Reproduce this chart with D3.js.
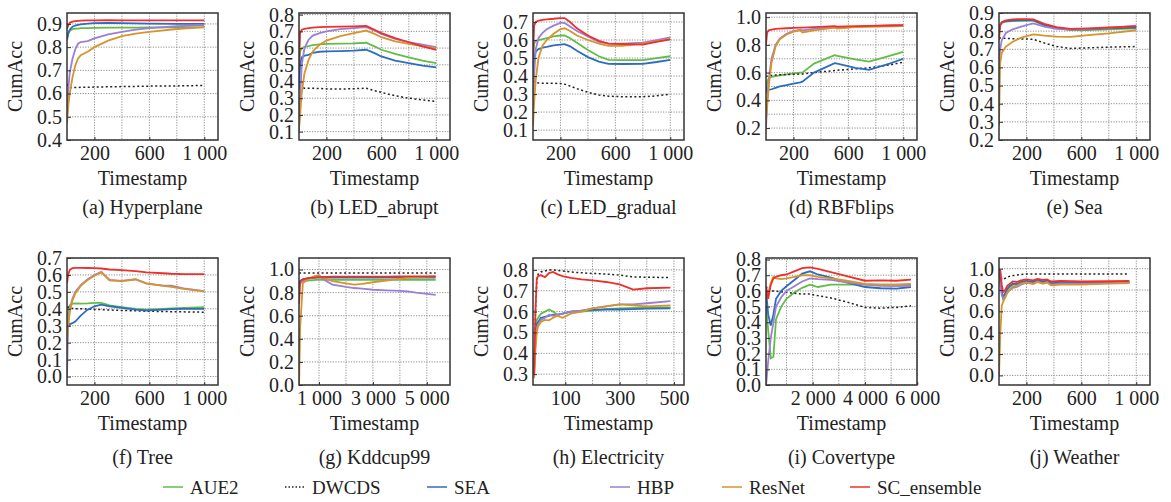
<!DOCTYPE html>
<meta charset="utf-8">
<style>
    body { margin: 0; background: #fff; }
    text { font-family: 'Liberation Serif', 'Times New Roman', serif; fill: #222; }
    .grid line { stroke: #8f8f8f; stroke-width: 1; stroke-dasharray: 1.2, 1.4; }
    .axis text { font-size: 20px; }
    .axis line { stroke: #333; }
    .frame { fill: none; stroke: #333; stroke-width: 1.5; }
    .label { font-size: 20px; }
    .legend text { font-size: 19px; }
</style>
<body>
<script src="https://cdn.jsdelivr.net/npm/d3@7/dist/d3.min.js"></script>
<script>

// series order in every panel
var methods = ["AUE2", "DWCDS", "SEA", "HBP", "ResNet", "SC_ensemble"];
var colors = ["#62bd46", "#222222", "#2d6cc0", "#9a7fd6", "#d6952c", "#ee2f2c"];

// (a) Hyperplane
var hyperplaneX = [0, 10, 20, 40, 60, 80, 100, 150, 200, 300, 400, 500, 600, 800, 1000];
var hyperplaneAcc = [
    [0.84, 0.86, 0.87, 0.878, 0.88, 0.88, 0.882, 0.882, 0.883, 0.884, 0.884, 0.884, 0.885, 0.885, 0.885],
    [0.64, 0.63, 0.625, 0.625, 0.626, 0.626, 0.627, 0.627, 0.628, 0.629, 0.63, 0.631, 0.632, 0.633, 0.635],
    [0.83, 0.86, 0.875, 0.888, 0.893, 0.896, 0.898, 0.901, 0.903, 0.904, 0.903, 0.902, 0.901, 0.9, 0.9],
    [0.5, 0.62, 0.69, 0.75, 0.79, 0.815, 0.822, 0.826, 0.838, 0.855, 0.866, 0.875, 0.882, 0.89, 0.895],
    [0.47, 0.55, 0.6, 0.67, 0.72, 0.75, 0.765, 0.78, 0.8, 0.828, 0.847, 0.858, 0.866, 0.878, 0.886],
    [0.88, 0.895, 0.905, 0.91, 0.912, 0.913, 0.914, 0.915, 0.915, 0.916, 0.915, 0.915, 0.915, 0.915, 0.915]
];

// (b) LED_abrupt
var abruptX = [0, 8, 20, 40, 70, 100, 150, 200, 300, 400, 490, 550, 600, 700, 800, 900, 1000];
var abruptAcc = [
    [0.45, 0.58, 0.6, 0.607, 0.612, 0.618, 0.622, 0.625, 0.627, 0.628, 0.632, 0.61, 0.59, 0.565, 0.545, 0.525, 0.51],
    [0.37, 0.37, 0.365, 0.36, 0.36, 0.36, 0.358, 0.356, 0.355, 0.357, 0.36, 0.345, 0.335, 0.315, 0.3, 0.29, 0.28],
    [0.35, 0.5, 0.545, 0.555, 0.56, 0.572, 0.578, 0.58, 0.582, 0.585, 0.59, 0.57, 0.55, 0.525, 0.51, 0.495, 0.485],
    [0.1, 0.3, 0.5, 0.6, 0.65, 0.675, 0.69, 0.7, 0.713, 0.72, 0.725, 0.705, 0.685, 0.655, 0.635, 0.62, 0.605],
    [0.12, 0.2, 0.33, 0.45, 0.53, 0.58, 0.62, 0.645, 0.672, 0.69, 0.705, 0.685, 0.665, 0.64, 0.625, 0.61, 0.6],
    [0.5, 0.69, 0.71, 0.715, 0.72, 0.722, 0.725, 0.727, 0.728, 0.73, 0.733, 0.71, 0.69, 0.66, 0.635, 0.61, 0.59]
];

// (c) LED_gradual
var gradualX = [0, 8, 20, 40, 70, 100, 150, 200, 230, 270, 320, 400, 480, 550, 650, 800, 900, 1000];
var gradualAcc = [
    [0.45, 0.58, 0.595, 0.6, 0.605, 0.61, 0.62, 0.625, 0.625, 0.61, 0.585, 0.545, 0.51, 0.49, 0.488, 0.488, 0.5, 0.51],
    [0.37, 0.37, 0.365, 0.362, 0.36, 0.36, 0.36, 0.358, 0.355, 0.345, 0.33, 0.31, 0.295, 0.288, 0.285, 0.285, 0.29, 0.3],
    [0.38, 0.5, 0.535, 0.55, 0.558, 0.562, 0.57, 0.575, 0.577, 0.565, 0.54, 0.505, 0.48, 0.468, 0.467, 0.468, 0.478, 0.49],
    [0.2, 0.4, 0.55, 0.61, 0.64, 0.66, 0.68, 0.695, 0.695, 0.675, 0.65, 0.62, 0.59, 0.58, 0.58, 0.585, 0.6, 0.615],
    [0.12, 0.25, 0.38, 0.5, 0.57, 0.6, 0.635, 0.66, 0.665, 0.65, 0.625, 0.6, 0.58, 0.567, 0.568, 0.58, 0.593, 0.605],
    [0.5, 0.68, 0.7, 0.708, 0.712, 0.715, 0.718, 0.722, 0.722, 0.7, 0.665, 0.625, 0.595, 0.58, 0.578, 0.575, 0.59, 0.603]
];

// (d) RBFblips
var rbfX = [0, 8, 20, 40, 70, 100, 150, 200, 250, 265, 350, 500, 520, 650, 750, 900, 1000];
var rbfAcc = [
    [0.45, 0.53, 0.56, 0.57, 0.575, 0.58, 0.588, 0.595, 0.6, 0.6, 0.665, 0.725, 0.72, 0.695, 0.68, 0.72, 0.75],
    [0.57, 0.575, 0.578, 0.58, 0.582, 0.584, 0.586, 0.588, 0.59, 0.59, 0.6, 0.615, 0.617, 0.627, 0.635, 0.655, 0.675],
    [0.5, 0.47, 0.475, 0.48, 0.49, 0.5, 0.51, 0.52, 0.53, 0.535, 0.6, 0.668, 0.665, 0.635, 0.62, 0.665, 0.7],
    [0.2, 0.38, 0.55, 0.7, 0.8, 0.845, 0.88, 0.9, 0.91, 0.905, 0.915, 0.928, 0.925, 0.93, 0.935, 0.94, 0.942],
    [0.25, 0.35, 0.5, 0.67, 0.79, 0.84, 0.875, 0.895, 0.905, 0.89, 0.905, 0.925, 0.918, 0.928, 0.93, 0.933, 0.935],
    [0.8, 0.89, 0.905, 0.91, 0.915, 0.918, 0.92, 0.922, 0.925, 0.925, 0.928, 0.935, 0.932, 0.935, 0.937, 0.94, 0.942]
];

// (e) Sea
var seaX = [0, 8, 20, 50, 100, 150, 200, 250, 330, 420, 520, 650, 800, 1000];
var seaAcc = [
    [0.8, 0.83, 0.845, 0.852, 0.855, 0.857, 0.858, 0.858, 0.832, 0.815, 0.806, 0.806, 0.81, 0.815],
    [0.76, 0.762, 0.762, 0.76, 0.758, 0.757, 0.757, 0.755, 0.735, 0.715, 0.705, 0.708, 0.712, 0.715],
    [0.8, 0.835, 0.848, 0.855, 0.858, 0.86, 0.861, 0.86, 0.835, 0.818, 0.81, 0.81, 0.815, 0.82],
    [0.6, 0.7, 0.75, 0.79, 0.81, 0.822, 0.833, 0.843, 0.825, 0.812, 0.808, 0.812, 0.818, 0.83],
    [0.28, 0.62, 0.68, 0.715, 0.742, 0.76, 0.772, 0.782, 0.775, 0.77, 0.768, 0.778, 0.788, 0.805],
    [0.75, 0.83, 0.85, 0.86, 0.865, 0.866, 0.866, 0.865, 0.84, 0.822, 0.812, 0.815, 0.82, 0.826]
];

// (f) Tree
var treeX = [0, 8, 20, 40, 60, 100, 150, 200, 250, 310, 400, 500, 580, 700, 760, 850, 1000];
var treeAcc = [
    [0.3, 0.38, 0.42, 0.43, 0.432, 0.43, 0.432, 0.435, 0.435, 0.42, 0.41, 0.4, 0.395, 0.4, 0.402, 0.405, 0.41],
    [0.41, 0.41, 0.405, 0.402, 0.4, 0.4, 0.398, 0.396, 0.395, 0.393, 0.39, 0.388, 0.386, 0.384, 0.383, 0.382, 0.38],
    [0.25, 0.29, 0.31, 0.315, 0.325, 0.36, 0.395, 0.415, 0.425, 0.415, 0.405, 0.395, 0.39, 0.395, 0.398, 0.4, 0.4],
    [0.0, 0.3, 0.4, 0.46, 0.5, 0.54, 0.575, 0.6, 0.618, 0.57, 0.565, 0.575, 0.55, 0.537, 0.537, 0.52, 0.505],
    [0.22, 0.3, 0.38, 0.45, 0.49, 0.535, 0.57, 0.595, 0.615, 0.568, 0.563, 0.573, 0.548, 0.535, 0.53, 0.518, 0.503],
    [0.55, 0.6, 0.63, 0.64, 0.642, 0.642, 0.641, 0.64, 0.638, 0.632, 0.628, 0.622, 0.615, 0.61, 0.607, 0.605, 0.605]
];

// (g) Kddcup99
var kddX = [260, 300, 400, 600, 800, 900, 1000, 1200, 1500, 2000, 2300, 2600, 3000, 3500, 4000, 4300, 4600, 5330];
var kddAcc = [
    [0.88, 0.89, 0.9, 0.905, 0.908, 0.91, 0.91, 0.91, 0.91, 0.91, 0.91, 0.91, 0.91, 0.91, 0.91, 0.91, 0.91, 0.91],
    [0.97, 0.97, 0.97, 0.97, 0.97, 0.97, 0.97, 0.97, 0.97, 0.97, 0.97, 0.97, 0.97, 0.97, 0.97, 0.97, 0.97, 0.97],
    [0.88, 0.9, 0.915, 0.925, 0.928, 0.93, 0.93, 0.93, 0.93, 0.93, 0.93, 0.93, 0.93, 0.93, 0.93, 0.93, 0.93, 0.93],
    [0.85, 0.88, 0.9, 0.92, 0.935, 0.945, 0.95, 0.91, 0.87, 0.85, 0.84, 0.835, 0.825, 0.82, 0.815, 0.81, 0.8, 0.78],
    [0.0, 0.5, 0.88, 0.92, 0.94, 0.948, 0.945, 0.925, 0.9, 0.88, 0.87, 0.875, 0.89, 0.905, 0.92, 0.93, 0.935, 0.94],
    [0.7, 0.9, 0.915, 0.925, 0.93, 0.933, 0.935, 0.937, 0.938, 0.938, 0.938, 0.939, 0.939, 0.939, 0.94, 0.94, 0.94, 0.94]
];

// (h) Electricity
var elecX = [-15, -10, -5, 0, 10, 25, 40, 55, 70, 90, 120, 160, 200, 250, 300, 350, 400, 487];
var elecAcc = [
    [0.33, 0.5, 0.56, 0.57, 0.59, 0.6, 0.61, 0.6, 0.585, 0.59, 0.6, 0.6, 0.605, 0.612, 0.615, 0.618, 0.62, 0.62],
    [0.3, 0.6, 0.75, 0.78, 0.79, 0.795, 0.8, 0.8, 0.798, 0.795, 0.79, 0.786, 0.783, 0.78, 0.775, 0.766, 0.765, 0.763],
    [0.35, 0.48, 0.54, 0.55, 0.57, 0.575, 0.58, 0.585, 0.583, 0.59, 0.6, 0.605, 0.608, 0.61, 0.61, 0.612, 0.614, 0.615],
    [0.3, 0.45, 0.52, 0.54, 0.56, 0.57, 0.585, 0.58, 0.585, 0.59, 0.6, 0.605, 0.615, 0.625, 0.635, 0.635, 0.64, 0.65],
    [0.28, 0.42, 0.5, 0.53, 0.55, 0.56, 0.558, 0.57, 0.58, 0.57, 0.59, 0.6, 0.615, 0.625, 0.635, 0.63, 0.625, 0.63],
    [0.3, 0.6, 0.76, 0.77, 0.775, 0.765, 0.785, 0.79, 0.78, 0.77, 0.762, 0.755, 0.75, 0.742, 0.73, 0.705, 0.712, 0.715]
];

// (i) Covertype
var coverX = [220, 300, 400, 500, 600, 800, 1000, 1300, 1600, 1900, 2200, 2700, 3300, 4000, 4600, 5200, 5760];
var coverAcc = [
    [0.5, 0.35, 0.17, 0.18, 0.42, 0.5, 0.55, 0.59, 0.62, 0.64, 0.625, 0.64, 0.64, 0.64, 0.64, 0.64, 0.64],
    [0.63, 0.6, 0.6, 0.6, 0.598, 0.595, 0.59, 0.585, 0.58, 0.58, 0.57, 0.555, 0.53, 0.495, 0.49, 0.495, 0.505],
    [0.6, 0.45, 0.38, 0.45, 0.55, 0.6, 0.63, 0.67, 0.71, 0.725, 0.705, 0.685, 0.655, 0.625, 0.617, 0.615, 0.625],
    [0.0, 0.15, 0.3, 0.4, 0.5, 0.56, 0.6, 0.63, 0.66, 0.68, 0.675, 0.67, 0.655, 0.64, 0.632, 0.63, 0.632],
    [0.6, 0.58, 0.65, 0.69, 0.68, 0.675, 0.68, 0.69, 0.7, 0.7, 0.69, 0.68, 0.665, 0.645, 0.64, 0.64, 0.645],
    [0.63, 0.55, 0.64, 0.68, 0.69, 0.7, 0.705, 0.725, 0.745, 0.75, 0.74, 0.72, 0.695, 0.665, 0.667, 0.665, 0.672]
];

// (j) Weather
var weatherX = [0, 10, 20, 30, 45, 60, 80, 100, 130, 160, 200, 250, 280, 320, 350, 380, 450, 600, 800, 950];
var weatherAcc = [
    [1.0, 0.9, 0.78, 0.72, 0.76, 0.8, 0.83, 0.85, 0.85, 0.87, 0.88, 0.87, 0.89, 0.87, 0.885, 0.86, 0.865, 0.862, 0.868, 0.872],
    [1.0, 0.95, 0.9, 0.9, 0.91, 0.92, 0.93, 0.935, 0.94, 0.945, 0.95, 0.95, 0.95, 0.95, 0.95, 0.95, 0.95, 0.95, 0.95, 0.95],
    [1.0, 0.9, 0.78, 0.73, 0.77, 0.81, 0.84, 0.86, 0.855, 0.875, 0.885, 0.875, 0.895, 0.88, 0.89, 0.865, 0.87, 0.867, 0.872, 0.876],
    [0.9, 0.85, 0.75, 0.72, 0.74, 0.78, 0.8, 0.82, 0.83, 0.85, 0.87, 0.86, 0.88, 0.86, 0.875, 0.85, 0.86, 0.86, 0.865, 0.87],
    [0.0, 0.4, 0.65, 0.69, 0.73, 0.77, 0.8, 0.83, 0.84, 0.86, 0.87, 0.855, 0.875, 0.86, 0.87, 0.845, 0.85, 0.85, 0.86, 0.865],
    [1.0, 0.98, 0.85, 0.78, 0.8, 0.84, 0.86, 0.88, 0.875, 0.89, 0.9, 0.89, 0.905, 0.895, 0.9, 0.88, 0.885, 0.88, 0.882, 0.885]
];

// tick labels and grid positions
var ticks1000 = [200, 600, 1000];
var grid1000 = [200, 400, 600, 800, 1000];
var ticksKdd = [1000, 3000, 5000];
var gridKdd = [1000, 2000, 3000, 4000, 5000];
var ticksElec = [100, 300, 500];
var gridElec = [100, 200, 300, 400, 500];
var ticksCover = [2000, 4000, 6000];
var gridCover = [1000, 2000, 3000, 4000, 5000, 6000];

var captions = ["(a) Hyperplane", "(b) LED_abrupt", "(c) LED_gradual", "(d) RBFblips", "(e) Sea",
    "(f) Tree", "(g) Kddcup99", "(h) Electricity", "(i) Covertype", "(j) Weather"];

function range(a, b, s) { return d3.range(Math.round(a / s), Math.round(b / s) + 1).map(function (k) { return +(k * s).toFixed(2); }); }

var panels = [
    { x: hyperplaneX, acc: hyperplaneAcc, xd: [0, 1100], yd: [0.4, 0.947], xt: ticks1000, xg: grid1000, yt: range(0.4, 0.9, 0.1), yg: range(0.4, 0.9, 0.1) },
    { x: abruptX, acc: abruptAcc, xd: [0, 1100], yd: [0.05, 0.81], xt: ticks1000, xg: grid1000, yt: range(0.1, 0.8, 0.1), yg: range(0.1, 0.8, 0.1) },
    { x: gradualX, acc: gradualAcc, xd: [0, 1100], yd: [0.045, 0.75], xt: ticks1000, xg: grid1000, yt: range(0.1, 0.7, 0.1), yg: range(0.1, 0.7, 0.1) },
    { x: rbfX, acc: rbfAcc, xd: [0, 1100], yd: [0.114, 1.03], xt: ticks1000, xg: grid1000, yt: range(0.2, 1.0, 0.2), yg: range(0.2, 1.0, 0.1) },
    { x: seaX, acc: seaAcc, xd: [0, 1100], yd: [0.2, 0.9], xt: ticks1000, xg: grid1000, yt: range(0.2, 0.9, 0.1), yg: range(0.2, 0.9, 0.1) },
    { x: treeX, acc: treeAcc, xd: [0, 1100], yd: [-0.05, 0.7], xt: ticks1000, xg: grid1000, yt: range(0, 0.7, 0.1), yg: range(0, 0.7, 0.1) },
    { x: kddX, acc: kddAcc, xd: [257, 5860], yd: [0, 1.1], xt: ticksKdd, xg: gridKdd, yt: range(0, 1.0, 0.2), yg: range(0, 1.0, 0.2) },
    { x: elecX, acc: elecAcc, xd: [-19, 537], yd: [0.248, 0.857], xt: ticksElec, xg: gridElec, yt: range(0.3, 0.8, 0.1), yg: range(0.3, 0.8, 0.1) },
    { x: coverX, acc: coverAcc, xd: [217, 5990], yd: [0, 0.81], xt: ticksCover, xg: gridCover, yt: range(0, 0.8, 0.1), yg: range(0, 0.8, 0.1) },
    { x: weatherX, acc: weatherAcc, xd: [0, 1100], yd: [-0.09, 1.1], xt: ticks1000, xg: grid1000, yt: range(0, 1.0, 0.2), yg: range(0, 1.0, 0.2) }
];

var lefts = [67, 299, 533, 766, 999];
var tops = [13, 258];
var pw = 151, ph = 127;

var svg = d3.select("body").append("svg")
    .attr("width", 1171)
    .attr("height", 502);

var fmtX = d3.formatLocale({ decimal: ".", thousands: " ", grouping: [3], currency: ["", ""] }).format(",d");
var fmtY = d3.format(".1f");

panels.forEach(function (p, i) {
    var row = Math.floor(i / 5);
    var g = svg.append("g")
        .attr("transform", "translate(" + lefts[i % 5] + "," + tops[row] + ")");

    var x = d3.scaleLinear().domain(p.xd).range([0, pw]);
    var y = d3.scaleLinear().domain(p.yd).range([ph, 0]);

    // grid
    var grid = g.append("g").attr("class", "grid");
    grid.selectAll(".gx").data(p.xg).enter().append("line")
        .attr("x1", function (d) { return x(d); }).attr("x2", function (d) { return x(d); })
        .attr("y1", 0).attr("y2", ph);
    grid.selectAll(".gy").data(p.yg).enter().append("line")
        .attr("y1", function (d) { return y(d); }).attr("y2", function (d) { return y(d); })
        .attr("x1", 0).attr("x2", pw);

    // clip
    svg.append("clipPath").attr("id", "clip" + i)
        .append("rect").attr("width", pw).attr("height", ph);

    var line = d3.line()
        .x(function (d) { return x(d[0]); })
        .y(function (d) { return y(d[1]); });

    var lines = g.append("g").attr("clip-path", "url(#clip" + i + ")");
    p.acc.forEach(function (vals, k) {
        var pts = p.x.map(function (xv, j) { return [xv, vals[j]]; });
        lines.append("path")
            .attr("d", line(pts))
            .attr("fill", "none")
            .attr("stroke", colors[k])
            .attr("stroke-width", k == 1 ? 1.5 : 1.8)
            .attr("stroke-dasharray", k == 1 ? "2,2.5" : null);
    });

    // axes
    g.append("g").attr("class", "axis")
        .attr("transform", "translate(0," + ph + ")")
        .call(d3.axisBottom(x).tickValues(p.xt).tickFormat(fmtX).tickSizeInner(-3).tickSizeOuter(0).tickPadding(6))
        .call(function (a) { a.select(".domain").remove(); });

    g.append("g").attr("class", "axis")
        .call(d3.axisLeft(y).tickValues(p.yt).tickFormat(fmtY).tickSizeInner(-4).tickSizeOuter(0).tickPadding(5))
        .call(function (a) { a.select(".domain").remove(); });

    g.append("rect").attr("class", "frame").attr("width", pw).attr("height", ph);

    // labels
    g.append("text").attr("class", "label")
        .attr("transform", "translate(-45," + (ph / 2) + ") rotate(-90)")
        .attr("text-anchor", "middle")
        .text("CumAcc");

    g.append("text").attr("class", "label")
        .attr("x", pw / 2).attr("y", ph + 45)
        .attr("text-anchor", "middle")
        .text("Timestamp");

    g.append("text").attr("class", "label")
        .attr("x", pw / 2).attr("y", ph + (row == 0 ? 74 : 79))
        .attr("text-anchor", "middle")
        .text(captions[i]);
});

d3.selectAll(".axis").attr("font-family", null).attr("font-size", null);

// legend
var legendX = [163, 285, 427, 610, 722, 850];
var legend = svg.append("g").attr("class", "legend");
methods.forEach(function (m, k) {
    legend.append("line")
        .attr("x1", legendX[k]).attr("x2", legendX[k] + 20)
        .attr("y1", 487).attr("y2", 487)
        .attr("stroke", colors[k])
        .attr("stroke-width", 1.5)
        .attr("stroke-dasharray", k == 1 ? "1.5,2" : null);
    legend.append("text")
        .attr("x", legendX[k] + 27).attr("y", 494)
        .text(m);
});
</script>
</body>
